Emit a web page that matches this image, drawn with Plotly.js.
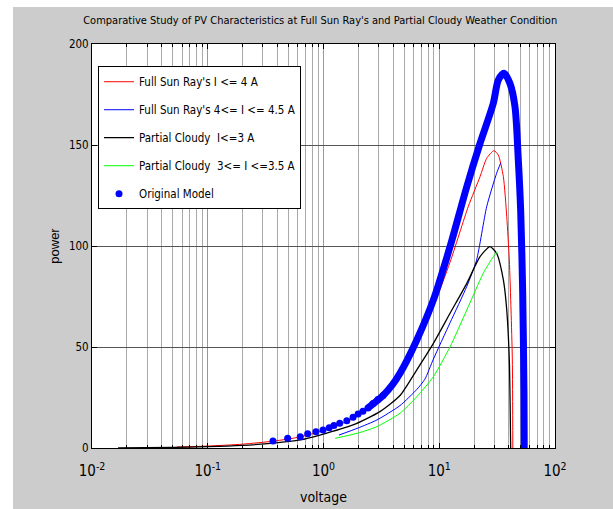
<!DOCTYPE html>
<html>
<head>
<meta charset="utf-8">
<script src="https://cdn.plot.ly/plotly-3.0.1.min.js"></script>
<style>
html,body{margin:0;padding:0;background:#ffffff;width:613px;height:509px;overflow:hidden;}
#chart{position:absolute;left:13px;top:7px;width:600px;height:502px;}
</style>
</head>
<body>
<div id="chart"></div>
<script>
// Full Sun Ray's I <= 4 A
var redV = [0.054, 0.1, 0.2, 0.37, 0.63, 1.0, 1.8, 3.27, 4.58, 6.4, 8.9, 12.4, 17.8, 22.5, 25.7, 29.7, 32.4, 35.8, 38.3, 40.3, 41.7, 42.8, 43.2];
var redP = [0.5, 0.95, 1.9, 3.4, 5.5, 8.7, 14.6, 25, 35.5, 51, 70, 92, 119.5, 134.3, 143.4, 147.2, 145, 134.3, 114.5, 93, 68.3, 43.6, 0];
// Full Sun Ray's 4<= I <= 4.5 A
var blueV = [1.36, 1.99, 2.9, 4.58, 6.4, 7.5, 8.9, 12.4, 17.3, 21.0, 25.7, 31.3, 33.9];
var blueP = [6.4, 9.9, 13.9, 21, 29, 34, 44, 62, 80, 93, 119.5, 136, 141];
// Partial Cloudy I<=3 A
var blackV = [0.0168, 0.05, 0.1, 0.2, 0.37, 0.63, 0.93, 1.8, 3.07, 4.58, 6.38, 8.9, 12.4, 17.3, 22.5, 27.4, 31.3, 35.8, 38.3, 40.3, 41.0, 41.4];
var blackP = [0.1, 0.3, 0.65, 1.3, 2.4, 4, 6.4, 11.4, 18, 26, 38.6, 51.8, 66.7, 81.5, 94.7, 99.7, 96.4, 83.2, 68.3, 43.6, 20, 0];
// Partial Cloudy 3<= I <=3.5 A
var greenV = [1.26, 1.99, 2.9, 4.58, 6.4, 8.9, 12.4, 17.3, 24.0, 29.3, 31.8];
var greenP = [4.8, 7.4, 10.6, 17.2, 25.4, 35.3, 50.1, 68.3, 86.5, 94.7, 97.2];
// Original Model - sampled points (low-voltage end)
var modelDotV = [0.366, 0.49, 0.63, 0.73, 0.86, 0.99, 1.12, 1.23, 1.38, 1.59, 1.80, 1.99, 2.19, 2.42, 2.68, 2.95, 3.27];
var modelDotP = [3.5, 4.8, 5.6, 7.1, 8.1, 8.9, 10, 11.2, 12.2, 13.5, 15.2, 16.8, 18.2, 19.8, 22, 24, 26];
// Original Model - dense part of the curve
var modelV = [2.42, 3.27, 3.9, 4.58, 6.4, 8.9, 12.4, 17.3, 22.5, 29.3, 32.4, 36.3, 40.8, 45.1, 48.2, 50.5, 52.6, 53.96, 54.2];
var modelP = [19.8, 26, 31, 37, 53.5, 73.3, 99.7, 129.4, 150.8, 170.6, 182.2, 185.5, 180.5, 169, 142.6, 117.8, 76.6, 27, 0];

var legendNames = ["Full Sun Ray's I <= 4 A", "Full Sun Ray's 4<= I <= 4.5 A", "Partial Cloudy\u00a0 I<=3 A", "Partial Cloudy\u00a0 3<= I <=3.5 A", "Original Model"];
var xTickVals = [0.01, 0.1, 1, 10, 100];
var xTickText = ['10<sup>-2</sup>', '10<sup>-1</sup>', '10<sup>0</sup>', '10<sup>1</sup>', '10<sup>2</sup>'];
var yTicks = [0, 50, 100, 150, 200];

var FN = "'DejaVu Sans Condensed', 'Liberation Sans Narrow', 'Arial Narrow', sans-serif";

var traces = [
  {x: redV, y: redP, mode: 'lines', line: {color: '#ff0000', width: 1, shape: 'spline', smoothing: 0.6}, name: legendNames[0], legendgroup: 'a'},
  {x: blueV, y: blueP, mode: 'lines', line: {color: '#0000ff', width: 1, shape: 'spline', smoothing: 0.6}, name: legendNames[1], legendgroup: 'b'},
  {x: blackV, y: blackP, mode: 'lines', line: {color: '#000000', width: 1.3, shape: 'spline', smoothing: 0.6}, name: legendNames[2], legendgroup: 'c'},
  {x: greenV, y: greenP, mode: 'lines', line: {color: '#00ff00', width: 1, shape: 'spline', smoothing: 0.6}, name: legendNames[3], legendgroup: 'd'},
  {x: modelV, y: modelP, mode: 'lines', line: {color: '#0000ff', width: 7, shape: 'spline', smoothing: 0.8}, showlegend: false, legendgroup: 'e', hoverinfo: 'skip'},
  {x: modelDotV, y: modelDotP, mode: 'markers', marker: {color: '#0000ff', size: 7}, name: legendNames[4], legendgroup: 'e'}
];

var layout = {
  width: 600, height: 502,
  paper_bgcolor: '#cccccc',
  plot_bgcolor: '#ffffff',
  margin: {l: 79, r: 58, t: 37, b: 61, pad: 0},
  showlegend: true,
  title: {text: "Comparative Study of PV Characteristics at Full Sun Ray's and Partial Cloudy Weather Condition",
          font: {family: FN, size: 11, color: '#000'}, x: 0.512, xref: 'container', y: 0.974, yref: 'container', xanchor: 'center', yanchor: 'middle'},
  xaxis: {
    type: 'log', range: [-2, 2], tickvals: xTickVals, ticktext: xTickText,
    showline: true, linecolor: '#000', linewidth: 1, mirror: 'ticks',
    ticks: 'inside', ticklen: 5, tickcolor: '#000',
    showgrid: true, gridcolor: '#999999', gridwidth: 1, zeroline: false,
    minor: {dtick: 'D1', ticks: 'inside', ticklen: 3, tickcolor: '#000', showgrid: true, gridcolor: '#aaaaaa', gridwidth: 1},
    tickfont: {family: FN, size: 15, color: '#000'},
    ticklabelstandoff: 9,
    title: {text: 'voltage', font: {family: FN, size: 14, color: '#000'}, standoff: 13},
    automargin: false
  },
  yaxis: {
    range: [0, 200], tickvals: yTicks,
    showline: true, linecolor: '#000', linewidth: 1, mirror: 'ticks',
    ticks: 'inside', ticklen: 5, tickcolor: '#000',
    showgrid: true, gridcolor: '#555555', gridwidth: 1, zeroline: false,
    tickfont: {family: FN, size: 11.5, color: '#000'},
    title: {text: 'power', font: {family: 'Liberation Sans, Arial, sans-serif', size: 13, color: '#000'}, standoff: 6},
    automargin: false
  },
  legend: {
    x: 0.013, y: 0.945, xanchor: 'left', yanchor: 'top',
    bgcolor: '#ffffff', bordercolor: '#000', borderwidth: 1,
    font: {family: FN, size: 11.5, color: '#000'},
    traceorder: 'grouped', tracegroupgap: 9
  }
};

Plotly.newPlot('chart', traces, layout, {displayModeBar: false, staticPlot: true});
</script>
</body>
</html>
